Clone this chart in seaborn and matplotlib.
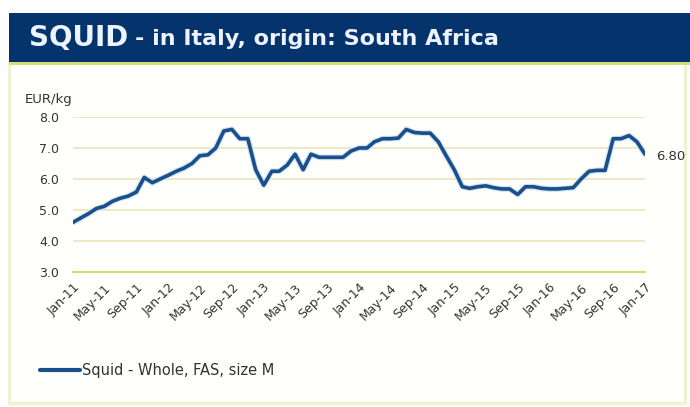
import numpy as np
import pandas as pd
import matplotlib
matplotlib.use("Agg")
import matplotlib.pyplot as plt
import matplotlib.dates as mdates
import matplotlib.patheffects as pe
from matplotlib.patches import Rectangle
from matplotlib.lines import Line2D
import seaborn as sns

# monthly price, Jan-11 .. Jan-17 (EUR/kg)
months = pd.date_range("2011-01-01", "2017-01-01", freq="MS")
price = [4.60, 4.75, 4.88, 5.05, 5.12, 5.28, 5.38, 5.45, 5.58, 6.05, 5.88, 6.00,
         6.12, 6.25, 6.35, 6.50, 6.75, 6.78, 7.00, 7.55, 7.60, 7.30, 7.30, 6.30,
         5.80, 6.25, 6.25, 6.45, 6.80, 6.30, 6.80, 6.70, 6.70, 6.70, 6.70, 6.90,
         7.00, 7.00, 7.20, 7.30, 7.30, 7.32, 7.60, 7.50, 7.48, 7.48, 7.20, 6.75,
         6.30, 5.75, 5.70, 5.75, 5.78, 5.72, 5.68, 5.68, 5.50, 5.75, 5.75, 5.70,
         5.68, 5.68, 5.70, 5.72, 6.00, 6.25, 6.28, 6.28, 7.30, 7.30, 7.40, 7.20,
         6.80]
yticks = [3.0, 4.0, 5.0, 6.0, 7.0, 8.0]
series_name = "Squid - Whole, FAS, size M"
last_label = "6.80"

df = pd.DataFrame({"month": months, "price": price})

sns.set_theme(style="white")
plt.rcParams["font.family"] = ["DejaVu Sans"]

W, H = 690, 407
fig = plt.figure(figsize=(W / 100, H / 100), dpi=100)
fig.patch.set_facecolor("white")

# chart panel with pale border
fig.patches.append(Rectangle((9 / W, 1 - 403 / H), 676 / W, 341 / H, transform=fig.transFigure,
                             facecolor="#fffffb", edgecolor="#f0f3d2", lw=2.5, zorder=0))
# banner
fig.patches.append(Rectangle((9 / W, 1 - 62 / H), 681 / W, 49 / H, transform=fig.transFigure,
                             facecolor="#05336b", edgecolor="none", zorder=1))
fig.patches.append(Rectangle((9 / W, 1 - 65 / H), 681 / W, 3 / H, transform=fig.transFigure,
                             facecolor="#d6dc7a", edgecolor="none", zorder=1))
fig.text(29 / W, 1 - 38 / H, "SQUID", color="#eef4ff", fontsize=20, fontweight="bold",
         va="center", ha="left")
fig.text(135 / W, 1 - 39 / H, "- in Italy, origin: South Africa", color="#eef4ff", fontsize=16,
         fontweight="bold", va="center", ha="left")

ax = fig.add_axes([73 / W, 1 - 272 / H, 572 / W, 155 / H])
ax.set_zorder(5)
ax.set_facecolor("none")
sns.lineplot(data=df, x="month", y="price", ax=ax, color="#1b4f8a", lw=2.6,
             path_effects=[pe.Stroke(linewidth=4.2, foreground="#cfe3f5"), pe.Normal()])

ax.set_xlim(months[0], months[-1])
ax.set_ylim(3.0, 8.0)
ax.set_yticks(yticks)
ax.set_yticklabels([f"{v:.1f}" for v in yticks], fontsize=9, color="#333333")
ax.yaxis.grid(True, color="#ebe4b8", lw=1.2)
ax.xaxis.grid(False)
ax.xaxis.set_major_locator(mdates.MonthLocator(bymonth=[1, 5, 9]))
ax.xaxis.set_major_formatter(mdates.DateFormatter("%b-%y"))
plt.setp(ax.get_xticklabels(), rotation=45, ha="right", rotation_mode="anchor",
         fontsize=9, color="#333333")
ax.tick_params(axis="x", direction="inout", length=5, color="#d2d88a", width=1, pad=4)
ax.tick_params(axis="y", length=0, pad=10)
for s in ["top", "right", "left"]:
    ax.spines[s].set_visible(False)
ax.spines["bottom"].set_color("#d2da80")
ax.spines["bottom"].set_linewidth(1.5)
ax.set_xlabel("")
ax.set_ylabel("")

fig.text(25 / W, 1 - 100 / H, "EUR/kg", fontsize=9.5, color="#333333", va="center", ha="left")
fig.text(656 / W, 1 - 157 / H, last_label, fontsize=9.5, color="#333333", va="center", ha="left")

# legend
fig.lines.append(Line2D([40 / W, 80 / W], [1 - 370 / H, 1 - 370 / H], transform=fig.transFigure,
                        color="#1b4f8a", lw=3))
fig.text(82 / W, 1 - 370 / H, series_name, fontsize=10.5, color="#333333", va="center", ha="left")

fig.savefig("out.png", dpi=100)
